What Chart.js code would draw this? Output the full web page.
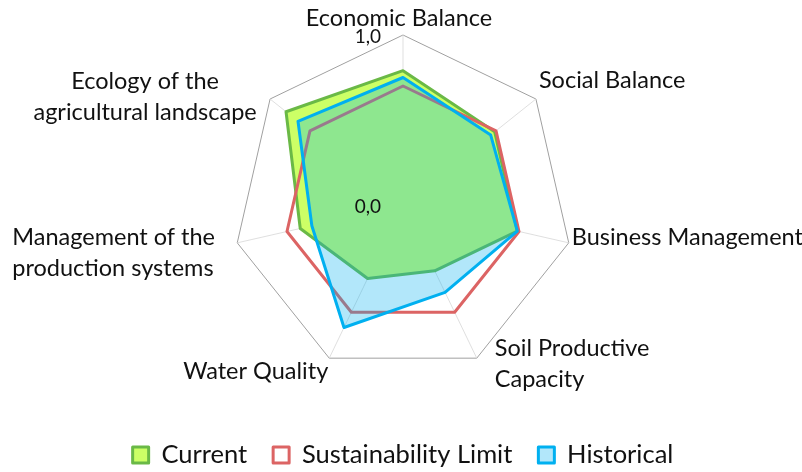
<!DOCTYPE html>
<html>
<head>
<meta charset="utf-8">
<script src="https://cdn.jsdelivr.net/npm/chart.js@4.4.1/dist/chart.umd.min.js"></script>
<style>
    html, body { margin: 0; padding: 0; background: #fff; }
</style>
</head>
<body>
<canvas id="radarChart" width="802" height="472"></canvas>
<script>
// ===== DATA =====
const axisLabels = [
    "Economic Balance",
    "Social Balance",
    "Business Management",
    ["Soil Productive", "Capacity"],
    "Water Quality",
    ["Management of the", "production systems"],
    ["Ecology of the", "agricultural landscape"]
];
const currentValues    = [0.79, 0.69, 0.69, 0.43, 0.48, 0.62, 0.88];
const limitValues      = [0.70, 0.70, 0.70, 0.70, 0.70, 0.70, 0.70];
const historicalValues = [0.75, 0.66, 0.69, 0.57, 0.80, 0.55, 0.79];
const tickLabels = ["0,0", "1,0"];

// where each axis label sits, relative to the outer vertex of its axis
const labelPlacement = [
    { align: "center", dx: -4,   dy: -17 },
    { align: "left",   dx: 3,    dy: -19 },
    { align: "left",   dx: 3,    dy: -5 },
    { align: "left",   dx: 18,   dy: 6 },
    { align: "right",  dx: -1,   dy: 13 },
    { align: "left",   dx: -225, dy: 10 },
    { align: "center", dx: -125, dy: -2 }
];

const FONT = "Lato, 'Open Sans', sans-serif";

// ===== LABEL + TICK TEXT =====
const axisTextPlugin = {
    id: "axisText",
    afterDraw(chart) {
        const scale = chart.scales.r;
        const ctx = chart.ctx;
        const lineGap = 31;

        ctx.save();
        ctx.fillStyle = "#111";
        ctx.textBaseline = "middle";
        ctx.font = "23.5px " + FONT;

        axisLabels.forEach((label, i) => {
            const lines = Array.isArray(label) ? label : [label];
            const place = labelPlacement[i];
            const p = scale.getPointPositionForValue(i, scale.max);
            const y0 = p.y + place.dy - (lines.length - 1) * lineGap / 2;
            ctx.textAlign = place.align;
            lines.forEach((t, k) => ctx.fillText(t, p.x + place.dx, y0 + k * lineGap));
        });

        // tick labels sit left of the vertical axis
        ctx.font = "19px " + FONT;
        ctx.textAlign = "right";
        scale.ticks.forEach(t => {
            const p = scale.getPointPositionForValue(0, t.value);
            ctx.fillText(t.label, p.x - 22, p.y + 2);
        });

        ctx.restore();
    }
};

// ===== CHART =====
const ctx = document.getElementById("radarChart").getContext("2d");

new Chart(ctx, {
    type: "radar",
    data: {
        labels: axisLabels,
        datasets: [
            {
                label: "Historical",
                data: historicalValues,
                borderColor: "#00b0f0",
                backgroundColor: "rgba(0,176,240,0.3)",
                fill: true,
                borderWidth: 3,
                pointRadius: 0,
                borderJoinStyle: "round"
            },
            {
                label: "Sustainability Limit",
                data: limitValues,
                borderColor: "#dc6464",
                backgroundColor: "#ffffff",
                fill: false,
                borderWidth: 3,
                pointRadius: 0,
                borderJoinStyle: "round"
            },
            {
                label: "Current",
                data: currentValues,
                borderColor: "#6ab946",
                backgroundColor: "#ccff66",
                fill: true,
                borderWidth: 3,
                pointRadius: 0,
                borderJoinStyle: "round"
            }
        ]
    },
    options: {
        responsive: false,
        animation: false,
        devicePixelRatio: 1,
        layout: {
            padding: { left: 4, right: 0, top: 35, bottom: -5.75 }
        },
        scales: {
            r: {
                min: 0,
                max: 1,
                z: 1,
                ticks: {
                    display: false,
                    stepSize: 1,
                    callback: (value, index) => tickLabels[index]
                },
                pointLabels: { display: false },
                grid: { color: "#a0a0a0", lineWidth: 1 },
                angleLines: { color: "rgba(217,217,217,0.85)", lineWidth: 1 }
            }
        },
        plugins: {
            tooltip: { enabled: false },
            legend: {
                position: "bottom",
                reverse: true,
                // empty title only opens the gap between chart and legend row
                title: {
                    display: true,
                    text: "",
                    font: { size: 10 },
                    padding: { top: 29.25, bottom: 0 }
                },
                labels: {
                    boxWidth: 16,
                    boxHeight: 16,
                    padding: 26,
                    color: "#111",
                    font: { family: FONT, size: 25.5 }
                }
            }
        }
    },
    plugins: [axisTextPlugin]
});
</script>
</body>
</html>
